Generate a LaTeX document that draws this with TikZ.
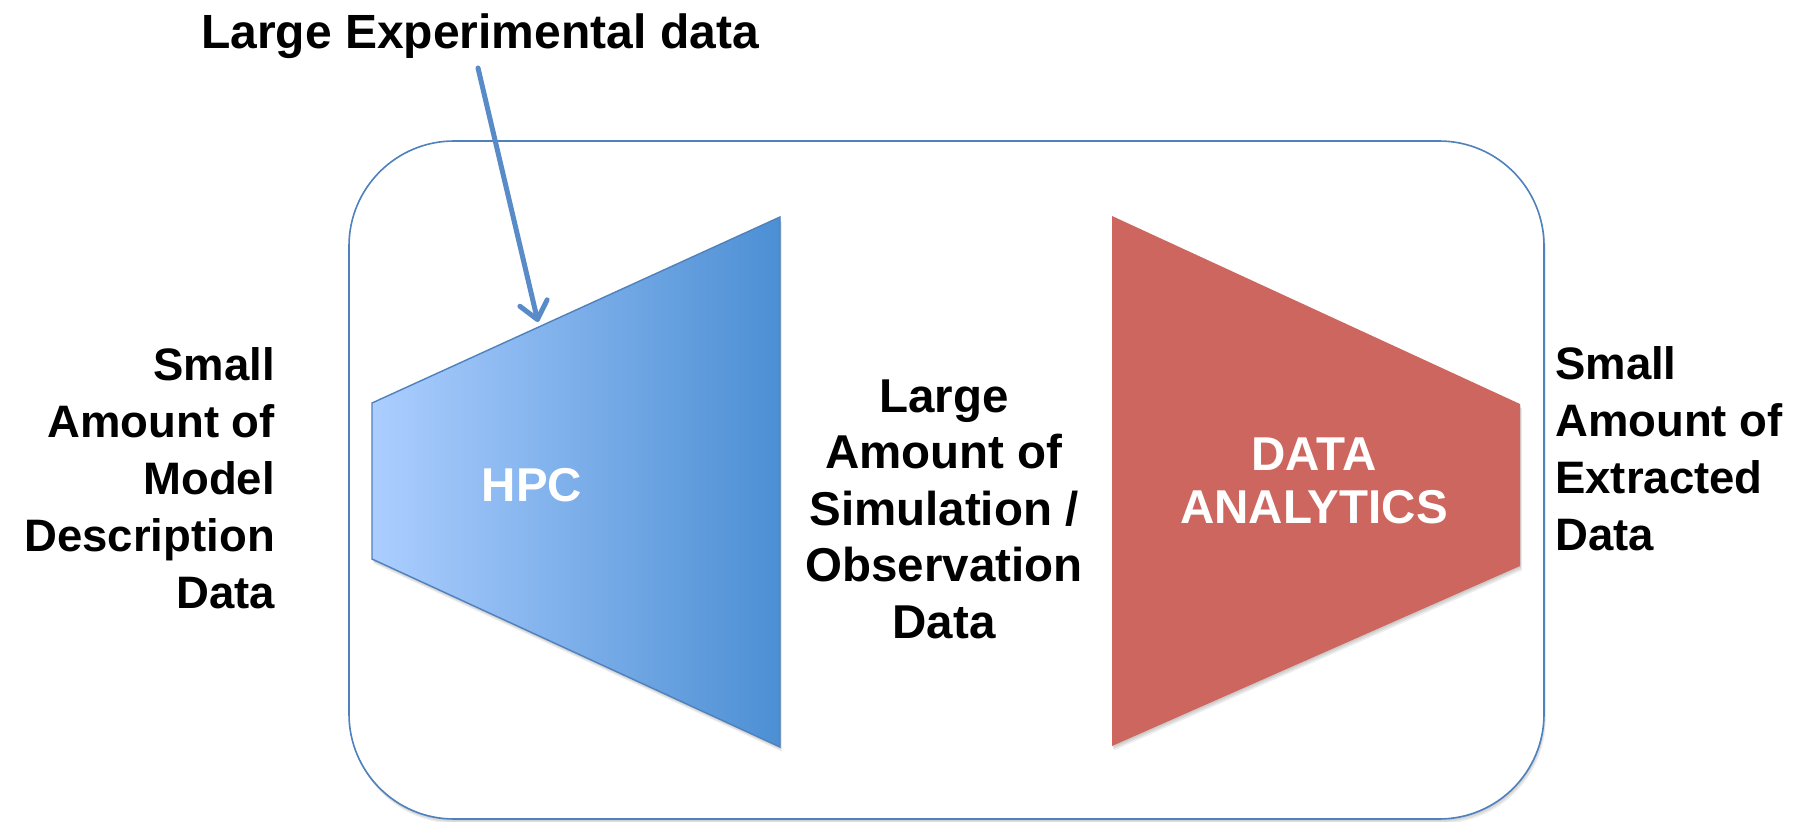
\documentclass[tikz,border=0pt]{standalone}
\usepackage{fontspec}
\setmainfont{Liberation Sans}
\usetikzlibrary{arrows.meta}

\definecolor{hpcLight}{RGB}{172,206,255}
\definecolor{hpcDark}{RGB}{76,143,212}
\definecolor{hpcEdge}{RGB}{79,129,189}
\definecolor{anaRed}{RGB}{205,102,94}
\definecolor{frameBlue}{RGB}{79,129,189}
\definecolor{arrowBlue}{RGB}{88,139,199}

\tikzset{
  sidetext/.style={font=\bfseries\fontsize{45.5}{57}\selectfont, inner sep=0pt, text=black},
  midtext/.style={font=\bfseries\fontsize{47.5}{56.5}\selectfont, inner sep=0pt, text=black, align=center},
  toptext/.style={font=\bfseries\fontsize{48}{56}\selectfont, inner sep=0pt, text=black},
  boxtext/.style={font=\bfseries\fontsize{47.5}{53}\selectfont, inner sep=0pt, text=white, align=center},
  softshadow/.style={fill=black, opacity=0.07},
  feed/.style={draw=arrowBlue, line width=5pt, line cap=round,
    -{Straight Barb[length=17pt, width=28pt, round]}},
}

\begin{document}
\begin{tikzpicture}[x=1pt, y=-1pt]
\useasboundingbox (0,0) rectangle (1813,822);

% outer frame with a light shadow
\foreach \d in {1.5,3,4.5}
  \fill[softshadow, rounded corners=105pt] (349+\d*0.4,141+\d) rectangle (1544+\d*0.4,819+\d);
\draw[frameBlue, line width=1.6pt, fill=white, rounded corners=105pt] (349,141) rectangle (1544,819);

% HPC funnel (widening towards the right)
\coordinate (h1) at (372,403);
\coordinate (h2) at (780,217);
\coordinate (h3) at (780,747);
\coordinate (h4) at (372,559);
\foreach \d in {1.5,3,4.5}
  \fill[softshadow] ([shift={(\d*0.4,\d)}]h1) -- ([shift={(\d*0.4,\d)}]h2) -- ([shift={(\d*0.4,\d)}]h3) -- ([shift={(\d*0.4,\d)}]h4) -- cycle;
\shade[left color=hpcLight, right color=hpcDark] (h1) -- (h2) -- (h3) -- (h4) -- cycle;
\draw[hpcEdge, line width=1.4pt, line join=miter] (h1) -- (h2) -- (h3) -- (h4) -- cycle;

% data analytics funnel (narrowing towards the right)
\coordinate (a1) at (1112,216);
\coordinate (a2) at (1520,404);
\coordinate (a3) at (1520,566);
\coordinate (a4) at (1112,746);
\foreach \d in {1.5,3,4.5}
  \fill[softshadow] ([shift={(\d*0.4,\d)}]a1) -- ([shift={(\d*0.4,\d)}]a2) -- ([shift={(\d*0.4,\d)}]a3) -- ([shift={(\d*0.4,\d)}]a4) -- cycle;
\fill[anaRed] (a1) -- (a2) -- (a3) -- (a4) -- cycle;

% labels inside the funnels (base anchor = baseline of the last line)
\node[boxtext, anchor=base] (hpc) at (532,501) {HPC};
\node[boxtext, anchor=base] (ana) at (1314,523) {DATA\\ANALYTICS};

% surrounding texts
\node[toptext, anchor=base] (exp) at (480,48) {Large Experimental data};
\node[sidetext, align=right, anchor=base east] (inp) at (275,608)
  {Small\\Amount of\\Model\\Description\\Data};
\node[midtext, anchor=base] (mid) at (944,638)
  {Large\\Amount of\\Simulation /\\Observation\\Data};
\node[sidetext, align=left, anchor=base west] (out) at (1555,550)
  {Small\\Amount of\\Extracted\\Data};

% experimental data entering the HPC stage
\coordinate (expfoot) at (478,68);
\coordinate (hpcentry) at (538,322);
\draw[feed] (expfoot) -- (hpcentry);
\end{tikzpicture}
\end{document}
